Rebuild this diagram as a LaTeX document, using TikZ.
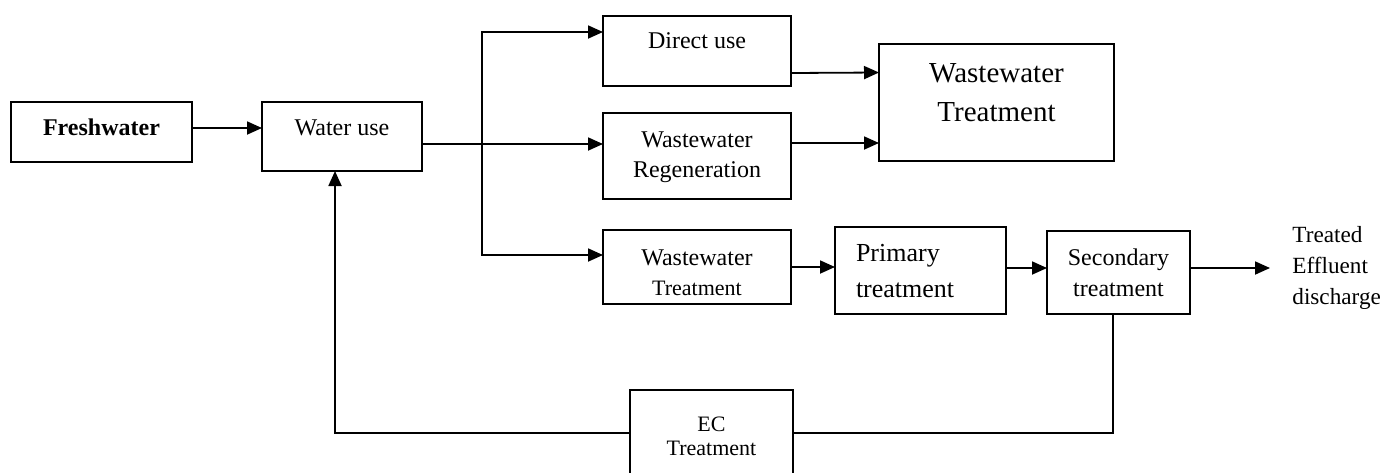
\documentclass[tikz,border=0pt]{standalone}
\usepackage{fontspec}
\setmainfont{Liberation Serif}
\usetikzlibrary{positioning}
\usetikzlibrary{arrows.meta}
\tikzset{
	unit box/.style n args={3}{
		draw, rectangle, line width=0.9pt, inner ysep=0pt, outer sep=0pt,
		minimum width=#1, text height=#2, text depth=#3, align=center
	},
	flow/.style={
		-{Triangle[length=7.5pt,width=6.5pt]}, line width=0.9pt
	},
	return line/.style={
		line width=0.9pt
	}
}
\newcommand{\fsz}[2]{\fontsize{#1}{#2}\selectfont}

\begin{document}
\begin{tikzpicture}[x=0.5pt, y=-0.5pt, every node/.style={font=\fsz{12}{15}}]
    \useasboundingbox (0,0) rectangle (1384,472);

    % supply side
    \node[unit box={90.5pt}{16.5pt}{13.5pt}, anchor=north west, font=\bfseries\fsz{12}{15}] (fresh) at (11,102) {Freshwater};
    \node[unit box={80pt}{16.5pt}{18pt}, base right=35pt of fresh] (wateruse) {Water use};

    % three outlets of the used water
    \node[unit box={94pt}{16pt}{19pt}, anchor=north west] (direct) at (603,16) {Direct use};
    \node[unit box={94pt}{32pt}{11pt}, below=13.5pt of direct] (regen) {Wastewater\\Regeneration};
    \node[unit box={94pt}{32.5pt}{4.5pt}, below=15.5pt of regen] (smallwt) {Wastewater\\{\fsz{11}{15}Treatment}};
    \node[unit box={117.5pt}{38.5pt}{20pt}, anchor=north west, font=\fsz{14.5}{19.5}] (bigwt) at (879,44) {Wastewater\\Treatment};

    % treatment train
    \node[unit box={85.5pt}{17pt}{26.5pt}, text width=64.5pt, inner xsep=10.5pt, align=left,
          font=\fsz{13}{18}, right=22pt of smallwt, yshift=-1.75pt] (primary) {Primary\\treatment};
    \node[unit box={71.5pt}{32.5pt}{9pt}, font=\fsz{12}{15.5}, right=20.5pt of primary, yshift=-1pt] (secondary) {Secondary\\treatment};
    \node[inner sep=0pt, align=left, font=\fsz{11.6}{15.5}, right=51pt of secondary, yshift=2.25pt] (effluent) {Treated\\Effluent\\discharge};
    \node[unit box={81.5pt}{32.5pt}{10.5pt}, anchor=north west, font=\fsz{11}{12}] (ec) at (630,390) {EC\\Treatment};

    \coordinate (split) at (482,144);

    \draw[flow] ([yshift=2pt]fresh.east) -- ([yshift=2pt]fresh.east -| wateruse.west);
    \draw[flow] ([yshift=-3.75pt]wateruse.east) -- ([yshift=-3.75pt]wateruse.east -| regen.west);
    \draw[flow] (split) |- ([yshift=9.5pt]direct.west);
    \draw[flow] (split) |- ([yshift=6pt]smallwt.west);
    \draw[flow] ([yshift=-11pt]direct.east) -- ([yshift=15pt]bigwt.west);
    \draw[flow] ([yshift=6.5pt]regen.east) -- ([yshift=6.5pt]regen.east -| bigwt.west);
    \draw[flow] (smallwt.east) -- (smallwt.east -| primary.west);
    \draw[flow] ([yshift=1.25pt]primary.east) -- ([yshift=2.25pt]secondary.west);
    \draw[flow] ([yshift=2.25pt]secondary.east) -- ([xshift=-11pt]effluent.west);

    % recycle loop back to water use
    \draw[return line] ([xshift=-2.75pt]secondary.south) |- (ec.east);
    \draw[flow] (ec.west) -| ([xshift=-3.5pt]wateruse.south);
\end{tikzpicture}
\end{document}
